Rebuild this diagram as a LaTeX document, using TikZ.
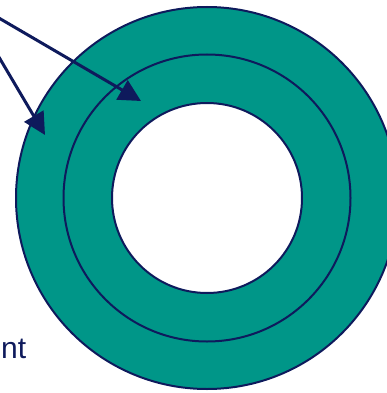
\documentclass[tikz,border=0pt]{standalone}
\usepackage{fontspec}
\setmainfont{Liberation Sans}
\definecolor{ringteal}{RGB}{0,150,136}
\definecolor{ringnavy}{RGB}{14,26,92}
\usetikzlibrary{arrows.meta,positioning}

\begin{document}
\begin{tikzpicture}[x=1pt,y=-1pt,
  ringcircle/.style={circle,draw=ringnavy,line width=2pt,inner sep=0pt},
  ringpointer/.style={-{Triangle[length=22pt,width=22pt]},line width=3pt,ringnavy}
]
  \clip (0,0) rectangle (387,393);
  \coordinate (c) at (207,198);
  % Outer ring
  \node[ringcircle,fill=ringteal,minimum size=382pt] (outer) at (c) {};
  % Middle boundary
  \node[ringcircle,minimum size=287pt] (middle) at (c) {};
  % Hole
  \node[ringcircle,fill=white,minimum size=190pt] (inner) at (c) {};
  % Label remnant
  \node[anchor=base west,inner sep=0pt,text=ringnavy,font=\fontsize{30}{36}\selectfont] (lbl) at (1,358) {nt};
  % Pointers into the bands
  \coordinate (src1) at (-20,7);
  \coordinate (src2) at (-10,42);
  \coordinate (tip1) at (141,101);
  \coordinate (tip2) at (45,135);
  \draw[ringpointer] (src1) -- (tip1);
  \draw[ringpointer] (src2) -- (tip2);
\end{tikzpicture}
\end{document}
